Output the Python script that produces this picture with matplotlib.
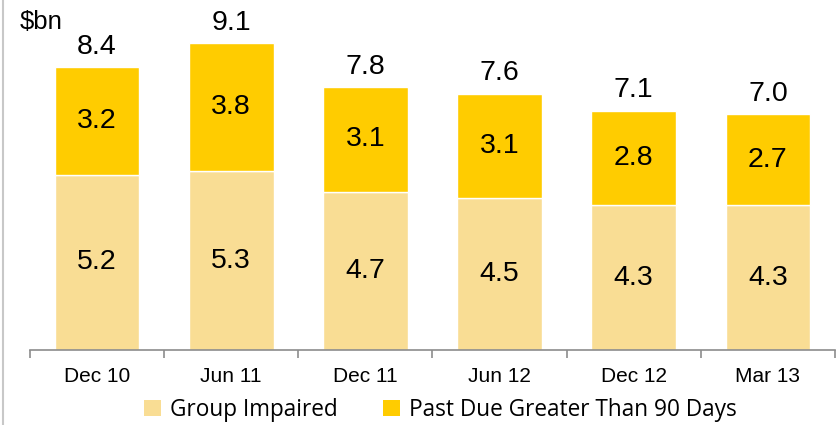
import matplotlib
matplotlib.use("Agg")
import matplotlib.pyplot as plt
from matplotlib.patches import Patch
from matplotlib.lines import Line2D
import numpy as np

categories = ["Dec 10", "Jun 11", "Dec 11", "Jun 12", "Dec 12", "Mar 13"]
group_impaired = [5.2, 5.3, 4.7, 4.5, 4.3, 4.3]
past_due = [3.2, 3.8, 3.1, 3.1, 2.8, 2.7]
totals = [8.4, 9.1, 7.8, 7.6, 7.1, 7.0]

c_light = "#F9DD94"
c_gold = "#FFCC00"

fig = plt.figure(figsize=(8.4, 4.25), dpi=100)
ax = fig.add_axes([30/840, 75/425, 805/840, 337/425])
x = np.arange(len(categories))
w = 0.63
ax.bar(x, group_impaired, w, color=c_light, edgecolor="white", linewidth=1)
ax.bar(x, past_due, w, bottom=group_impaired, color=c_gold, edgecolor="white", linewidth=1)

vfont = dict(family="Liberation Sans", fontsize=20.5, color="black")
for i in range(len(categories)):
    ax.text(x[i], group_impaired[i] / 2, f"{group_impaired[i]:.1f}", ha="center", va="center", **vfont)
    ax.text(x[i], group_impaired[i] + past_due[i] / 2, f"{past_due[i]:.1f}", ha="center", va="center", **vfont)
    ax.text(x[i], totals[i] + 0.22, f"{totals[i]:.1f}", ha="center", va="bottom", **vfont)

ax.set_xlim(-0.5, len(categories) - 0.5)
ax.set_ylim(0, 10)
for s in ["top", "right", "left"]:
    ax.spines[s].set_visible(False)
ax.spines["bottom"].set_color("#8C8C8C")
ax.spines["bottom"].set_linewidth(1.2)
ax.set_yticks([])
ax.set_xticks(x)
ax.set_xticklabels(categories, family="Liberation Sans", fontsize=15)
ax.tick_params(axis="x", which="major", length=0, pad=12)
ax.set_xticks(np.arange(-0.5, len(categories)), minor=True)
ax.tick_params(axis="x", which="minor", length=6, width=1.2, color="#8C8C8C", direction="out")

fig.text(20/840, 1 - 22/425, "$bn", family="Liberation Sans", fontsize=18.5, va="center", ha="left")

handles = [Patch(facecolor=c_light, edgecolor="none", label="Group Impaired"),
           Patch(facecolor=c_gold, edgecolor="none", label="Past Due Greater Than 90 Days")]
fig.legend(handles=handles, loc="center", bbox_to_anchor=(440/840, 1 - 410/425), ncol=2,
           frameon=False, prop=dict(family="Open Sans", size=16.3), handlelength=0.75,
           handleheight=0.75, handletextpad=0.4, columnspacing=2.0)

fig.add_artist(Line2D([3/840, 3/840], [0, 1], transform=fig.transFigure, color="#C8C8C8", linewidth=1.5))

fig.savefig("out.png", dpi=100)
